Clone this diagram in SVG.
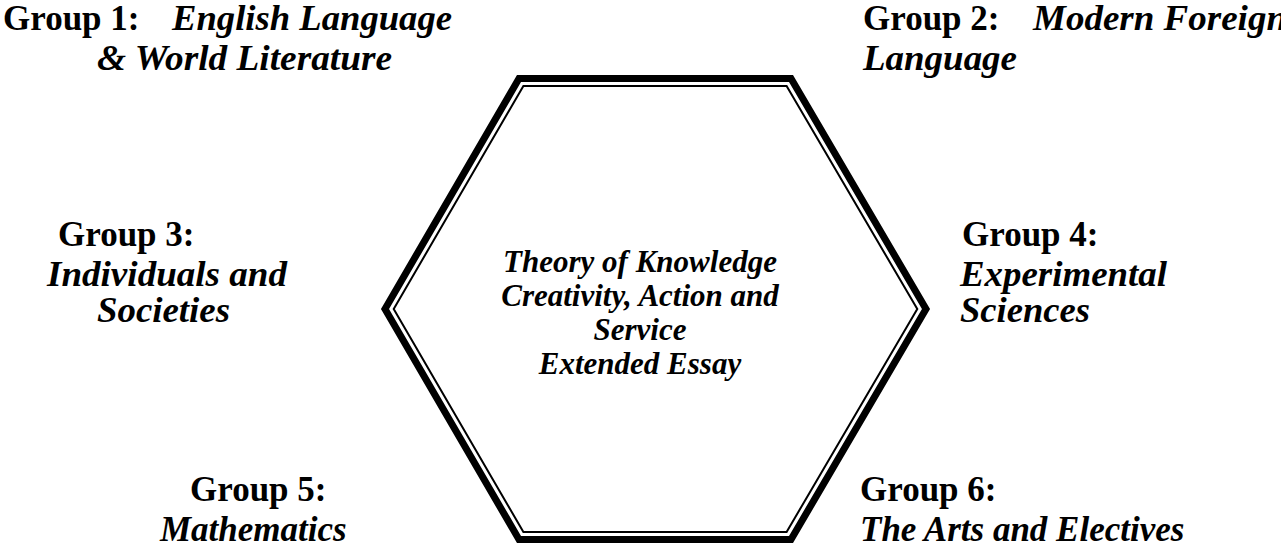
<svg xmlns="http://www.w3.org/2000/svg" width="1281" height="550" viewBox="0 0 1281 550">
<style>
text{font-family:"Liberation Serif","Times New Roman",serif;font-size:35px;font-weight:bold;fill:#000}
.i{font-style:italic}
.c{font-size:31px;font-style:italic;text-anchor:middle}
.thick{fill:none;stroke:#000;stroke-width:7;stroke-linejoin:miter}
.thin{fill:none;stroke:#000;stroke-width:2;stroke-linejoin:miter}
</style>
<rect width="1281" height="550" fill="#fff"/>
<g id="core">
<polygon class="thick" points="385,309 519,78.5 791,78.5 926,309 791,539.5 519,539.5"/>
<polygon class="thin" points="393.7,309 523.4,86 786.6,86 917.3,309 786.6,532 523.4,532"/>
<text class="c" x="640" y="272">Theory of Knowledge</text>
<text class="c" x="640" y="306">Creativity, Action and</text>
<text class="c" x="640" y="340">Service</text>
<text class="c" x="640" y="374">Extended Essay</text>
</g>
<g id="group1">
<text x="3" y="30">Group 1:</text>
<text class="i" x="172" y="30" textLength="280" lengthAdjust="spacingAndGlyphs">English Language</text>
<text class="i" x="97" y="70" textLength="295" lengthAdjust="spacingAndGlyphs">&amp; World Literature</text>
</g>
<g id="group2">
<text x="863" y="30">Group 2:</text>
<text class="i" x="1033" y="30" textLength="254" lengthAdjust="spacingAndGlyphs">Modern Foreign</text>
<text class="i" x="863" y="70" textLength="154" lengthAdjust="spacingAndGlyphs">Language</text>
</g>
<g id="group3">
<text x="58" y="246">Group 3:</text>
<text class="i" x="47" y="286" textLength="240" lengthAdjust="spacingAndGlyphs">Individuals and</text>
<text class="i" x="97" y="322" textLength="133" lengthAdjust="spacingAndGlyphs">Societies</text>
</g>
<g id="group4">
<text x="962" y="246">Group 4:</text>
<text class="i" x="960" y="286" textLength="207" lengthAdjust="spacingAndGlyphs">Experimental</text>
<text class="i" x="960" y="322" textLength="130" lengthAdjust="spacingAndGlyphs">Sciences</text>
</g>
<g id="group5">
<text x="190" y="501">Group 5:</text>
<text class="i" x="160" y="541">Mathematics</text>
</g>
<g id="group6">
<text x="860" y="501">Group 6:</text>
<text class="i" x="860" y="541">The Arts and Electives</text>
</g>
</svg>
